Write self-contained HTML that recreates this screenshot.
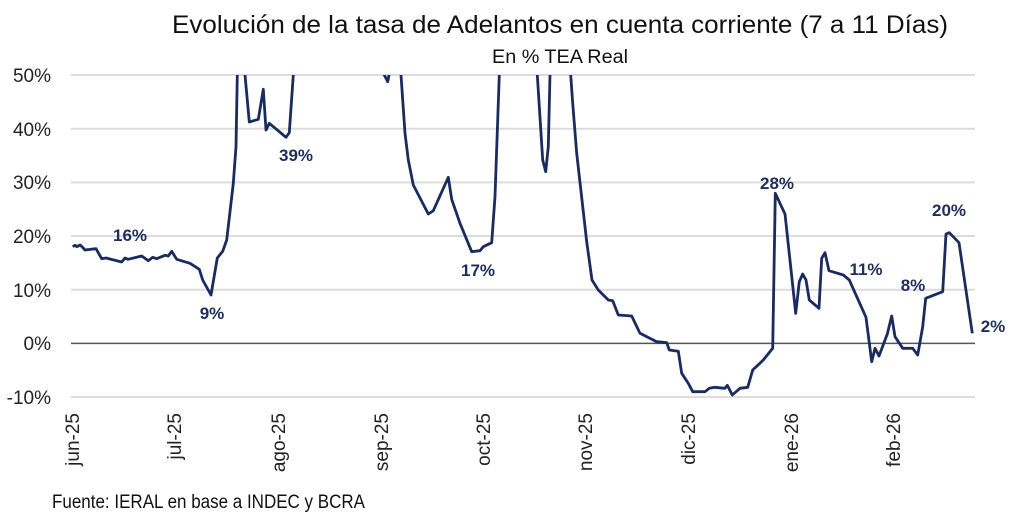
<!DOCTYPE html>
<html><head><meta charset="utf-8"><style>
body{margin:0;background:#fff;}
svg{display:block;font-family:"Liberation Sans",sans-serif;}
</style></head><body>
<svg width="1024" height="523" viewBox="0 0 1024 523">
<defs><clipPath id="c"><rect x="60" y="75" width="930" height="340"/></clipPath></defs>
<text x="560" y="33" text-anchor="middle" font-size="25" fill="#111" textLength="776" lengthAdjust="spacingAndGlyphs">Evolución de la tasa de Adelantos en cuenta corriente (7 a 11 Días)</text>
<text x="560" y="63" text-anchor="middle" font-size="19" fill="#111" textLength="136" lengthAdjust="spacingAndGlyphs">En % TEA Real</text>
<g stroke="#dcdcdc" stroke-width="2">
<line x1="71" x2="975" y1="75" y2="75"/><line x1="71" x2="975" y1="128.7" y2="128.7"/>
<line x1="71" x2="975" y1="182.4" y2="182.4"/><line x1="71" x2="975" y1="236" y2="236"/>
<line x1="71" x2="975" y1="289.7" y2="289.7"/><line x1="71" x2="975" y1="397" y2="397"/>
</g>
<line x1="71" x2="975" y1="343.4" y2="343.4" stroke="#555" stroke-width="1.5"/>
<g font-size="19" fill="#222" text-anchor="end">
<text x="51" y="82">50%</text><text x="51" y="136">40%</text><text x="51" y="189">30%</text>
<text x="51" y="243">20%</text><text x="51" y="297">10%</text><text x="51" y="350">0%</text><text x="51" y="404">-10%</text>
</g>
<g font-size="19" fill="#222" text-anchor="end">
<text transform="translate(79,413) rotate(-90)">jun-25</text>
<text transform="translate(181,413) rotate(-90)">jul-25</text>
<text transform="translate(285,413) rotate(-90)">ago-25</text>
<text transform="translate(388,413) rotate(-90)">sep-25</text>
<text transform="translate(490,413) rotate(-90)">oct-25</text>
<text transform="translate(592,413) rotate(-90)">nov-25</text>
<text transform="translate(695,413) rotate(-90)">dic-25</text>
<text transform="translate(798,413) rotate(-90)">ene-26</text>
<text transform="translate(900,413) rotate(-90)">feb-26</text>
</g>
<polyline clip-path="url(#c)" fill="none" stroke="#1a2b5e" stroke-width="2.8" stroke-linejoin="round" points="72.7,246.7 75,245.3 77,246.7 80,245 82,246.7 85,250 96,248.7 101.7,258.7 106,258 121.7,262 125,258 128,259.3 141.7,256 148.3,260.7 152.7,257.3 156.7,258.7 165,255.3 168.3,256 171.7,251.3 176.7,259.3 190,263.3 199.3,269.3 202.7,280 211,295 217.3,258 222.7,251.3 226.7,240 233.3,183.3 236,146.7 237.3,75 238,40 244,40 245,75 249.3,122 258.3,119.3 263.3,89.3 266,130 269.3,123.3 286,137.3 289.3,132.7 293.3,75 294,40 383,40 384.3,75 387.7,81.7 389,75 390,40 400,40 401,75 405,133.3 408.3,160 413.3,185 428.3,214 433.3,210.7 448.3,177.3 451.7,199.3 460,223.3 471.7,251.7 480,250.7 483.3,246.7 491.7,242.7 495,196.7 499.3,75 500,40 537,40 537.3,75 542.7,160 545.7,171.7 548.3,146.7 550,75 551,40 570,40 570.7,75 572.7,103.3 576.7,153.3 586.7,241.7 592,280 598.3,290 608.3,300 612.7,300.7 618.3,315 631.7,316 640,333.3 656.7,341.7 666.7,342.7 669.3,350 678.3,351.3 681.7,373.3 688.3,383.3 692.7,391.7 705,391.7 709.3,388.3 715,387.3 725,388.3 727.3,385.3 732.3,395 740,388.3 747.7,387.3 752.7,370 763.3,360 772.7,348.3 775.3,193.3 785,214 795.7,313.3 799.3,281.7 802.7,274 806,280 809.3,300 819,308.3 821.7,258.3 825,252.7 829,270.7 843.3,275 849.3,280 866,317.3 871.7,361.7 875,348.3 879,356 887.3,334 891.7,316 895,336.7 902.7,348.3 912.7,348.3 917.7,355 922.7,326.7 925.7,298.3 942.7,291.7 946,234 949.3,232.7 959,242.7 972.3,333.3"/>
<g font-size="17" font-weight="bold" fill="#1f2d5c" text-anchor="middle">
<text x="130" y="241">16%</text><text x="212" y="319">9%</text><text x="296" y="161">39%</text>
<text x="478" y="276">17%</text><text x="777" y="189">28%</text><text x="866" y="275">11%</text>
<text x="913" y="291">8%</text><text x="949" y="216">20%</text><text x="993" y="332">2%</text>
</g>
<text x="52" y="508" font-size="19" fill="#111" textLength="313" lengthAdjust="spacingAndGlyphs">Fuente: IERAL en base a INDEC y BCRA</text>
</svg>
</body></html>
